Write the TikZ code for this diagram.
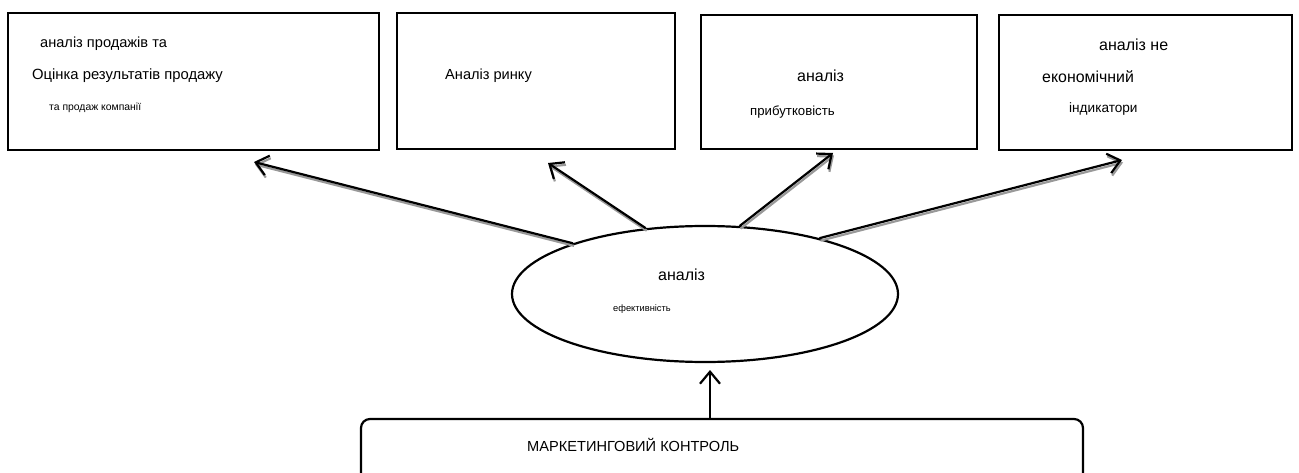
\documentclass[tikz,border=0pt]{standalone}
\usepackage{fontspec}
\setmainfont{Liberation Sans}
\usetikzlibrary{shapes.geometric,arrows.meta}
\begin{document}
\begin{tikzpicture}[x=1pt,y=-1pt,
  box/.style={draw,line width=2.7pt,rectangle,inner sep=0pt},
  txt/.style={anchor=base west,inner sep=0pt},
  tip/.style={-{Straight Barb[length=12pt,width=20pt]}},
  arr/.style={tip,line width=2.2pt,black},
  shadow/.style={tip,line width=2.2pt,black!40,transform canvas={xshift=1pt,yshift=-2.5pt}}]
\useasboundingbox (0,0) rectangle (1299,473);
% boxes
\node[box,minimum width=371pt,minimum height=137pt] (b1) at (193.5,81.5) {};
\node[box,minimum width=278pt,minimum height=136pt] (b2) at (536,81) {};
\node[box,minimum width=276pt,minimum height=134pt] (b3) at (839,82) {};
\node[box,minimum width=293pt,minimum height=135pt] (b4) at (1145.5,82.5) {};
\node[draw,ellipse,line width=2.2pt,inner sep=0pt,minimum width=386pt,minimum height=136pt] (ell) at (705,294) {};
\node[draw,rectangle,rounded corners=9pt,line width=2.2pt,inner sep=0pt,minimum width=722pt,minimum height=81pt] (ctrl) at (722,459.5) {};
% texts
\node[txt,font=\fontsize{14.6}{16}\selectfont] (t1a) at (40,48) {аналіз продажів та};
\node[txt,font=\fontsize{14.8}{16}\selectfont] (t1b) at (32,80) {Оцінка результатів продажу};
\node[txt,font=\fontsize{10.4}{12}\selectfont] (t1c) at (49,111) {та продаж компанії};
\node[txt,font=\fontsize{14.6}{16}\selectfont] (t2a) at (445,80) {Аналіз ринку};
\node[txt,font=\fontsize{16}{18}\selectfont] (t3a) at (797,82) {аналіз};
\node[txt,font=\fontsize{13.2}{15}\selectfont] (t3b) at (750,116) {прибутковість};
\node[txt,font=\fontsize{16}{18}\selectfont] (t4a) at (1099,51) {аналіз не};
\node[txt,font=\fontsize{15.9}{18}\selectfont] (t4b) at (1042,83) {економічний};
\node[txt,font=\fontsize{13.6}{15}\selectfont] (t4c) at (1069,113) {індикатори};
\node[txt,font=\fontsize{16}{18}\selectfont] (tea) at (658,280) {аналіз};
\node[txt,font=\fontsize{9.3}{11}\selectfont] (teb) at (613,312) {ефективність};
\node[txt,font=\fontsize{14.6}{16}\selectfont] (tc) at (527,451) {МАРКЕТИНГОВИЙ КОНТРОЛЬ};
% arrow ends
\coordinate (e1) at (254,162);
\coordinate (e2) at (548,163);
\coordinate (e3) at (833,153);
\coordinate (e4) at (1122,160);
\coordinate (v0) at (710,419);
\coordinate (v1) at (710,370);
% arrows
\foreach \a/\e in {159.5/e1,132.7/e2,63.8/e3,26.3/e4}{
  \draw[shadow] (ell.\a) -- (\e);
  \draw[arr] (ell.\a) -- (\e);
}
\draw[arr] (v0) -- (v1);
\end{tikzpicture}
\end{document}
